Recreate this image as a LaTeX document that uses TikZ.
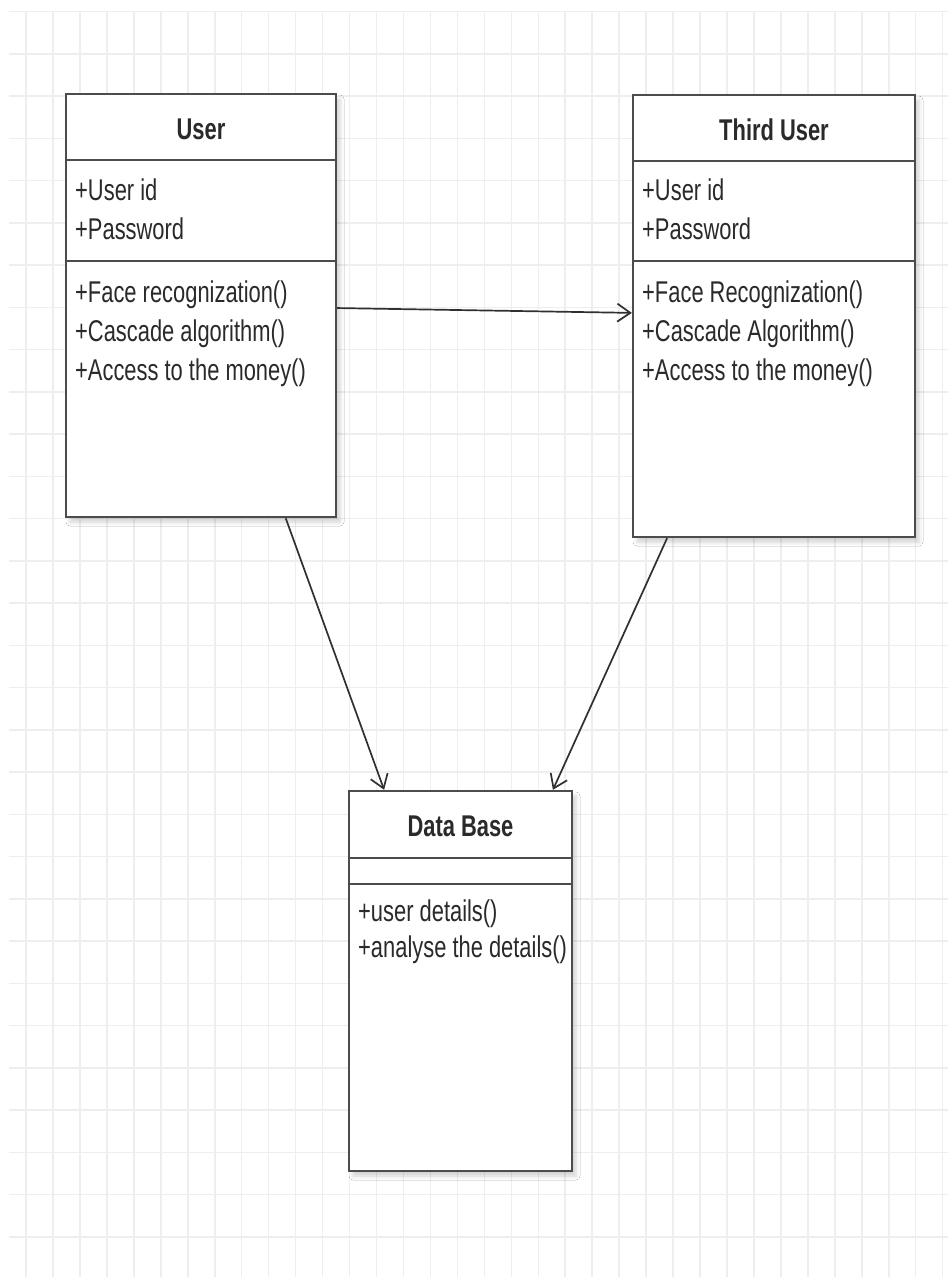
\documentclass[tikz,border=0pt]{standalone}
\usepackage{fontspec}
\setmainfont{Liberation Sans}[FakeStretch=0.73]
\usetikzlibrary{calc,arrows.meta,shadows.blur}

\definecolor{boxgray}{HTML}{4C4C4C}
\definecolor{txtgray}{HTML}{2A2A2A}
\definecolor{linegray}{HTML}{303030}
\definecolor{gridgray}{HTML}{EEEEEE}

\begin{document}
\begin{tikzpicture}[x=1pt,y=-1pt,
  classbox/.style={draw=boxgray, line width=2.4pt, fill=white, rectangle, inner sep=0pt,
    blur shadow={shadow xshift=4pt, shadow yshift=-5pt, shadow blur radius=4pt, shadow opacity=18}},
  classtitle/.style={font=\fontsize{30}{36}\selectfont\bfseries, text=txtgray, inner sep=0pt, anchor=base},
  member/.style={font=\fontsize{30}{36}\selectfont, text=txtgray, inner sep=0pt, anchor=base west},
  sepline/.style={draw=boxgray, line width=2.4pt},
  gridline/.style={draw=gridgray, line width=1.5pt},
  assoc/.style={draw=linegray, line width=1.7pt, -{Straight Barb[length=13pt,width=18pt]}},
]
\useasboundingbox (0,0) rectangle (948,1277);
\fill[white] (0,0) rectangle (948,1277);

% background grid
\foreach \i in {0,...,34}
  \draw[gridline] ({26.04+26.96*\i},11.5) -- ({26.04+26.96*\i},1277);
\foreach \j in {0,...,29}
  \draw[gridline] (9,{11.5+42.25*\j}) -- (948,{11.5+42.25*\j});

% ---- class User ----
\node[classbox, minimum width=270pt, minimum height=423pt] (user) at (201,305.5) {};
\draw[sepline] (user.west |- 0,160) -- (user.east |- 0,160);
\draw[sepline] (user.west |- 0,261) -- (user.east |- 0,261);
\node[classtitle] (user-title) at (201,139) {User};
\node[member] (user-a1) at (75,200) {+User id};
\node[member] (user-a2) at (75,239) {+Password};
\node[member] (user-m1) at (75,302) {+Face recognization()};
\node[member] (user-m2) at (75,341) {+Cascade algorithm()};
\node[member] (user-m3) at (75,380) {+Access to the money()};

% ---- class Third User ----
\node[classbox, minimum width=282pt, minimum height=442pt] (third) at (774,316) {};
\draw[sepline] (third.west |- 0,161) -- (third.east |- 0,161);
\draw[sepline] (third.west |- 0,261) -- (third.east |- 0,261);
\node[classtitle] (third-title) at (774,140) {Third User};
\node[member] (third-a1) at (642,200) {+User id};
\node[member] (third-a2) at (642,239) {+Password};
\node[member] (third-m1) at (642,302) {+Face Recognization()};
\node[member] (third-m2) at (642,341) {+Cascade Algorithm()};
\node[member] (third-m3) at (642,380) {+Access to the money()};

% ---- class Data Base ----
\node[classbox, minimum width=223pt, minimum height=380pt] (db) at (460.5,981) {};
\draw[sepline] (db.west |- 0,858) -- (db.east |- 0,858);
\draw[sepline] (db.west |- 0,884) -- (db.east |- 0,884);
\node[classtitle] (db-title) at (460.5,836) {Data Base};
\node[member] (db-m1) at (358,921) {+user details()};
\node[member] (db-m2) at (358,957) {+analyse the details()};

% ---- associations ----
\coordinate (a1s) at ($(user.north east)!0.506!(user.south east)$);
\coordinate (a1e) at ($(third.north west)!0.493!(third.south west)$);
\coordinate (a2s) at ($(user.south west)!0.811!(user.south east)$);
\coordinate (a2e) at ($(db.north west)!0.161!(db.north east)$);
\coordinate (a3s) at ($(third.south west)!0.124!(third.south east)$);
\coordinate (a3e) at ($(db.north west)!0.91!(db.north east)$);
\draw[assoc] (a1s) -- (a1e);
\draw[assoc] (a2s) -- (a2e);
\draw[assoc] (a3s) -- (a3e);
\end{tikzpicture}
\end{document}
